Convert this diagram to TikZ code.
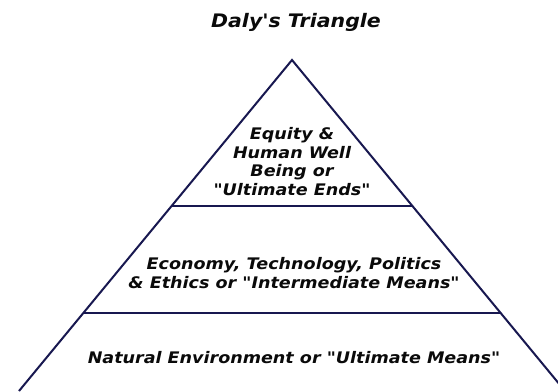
\documentclass[tikz,border=0pt]{standalone}
\usepackage{fontspec}
\usepackage{tikz}
\usetikzlibrary{calc}
\newfontfamily\dalyfont{DejaVu Sans}[FakeStretch=1.1]
\definecolor{mynavy}{RGB}{24,24,80}
\definecolor{myink}{RGB}{10,10,10}

\begin{document}
\begin{tikzpicture}[
          x=1bp,y=-1bp,
          tier/.style={mynavy,line width=2bp},
          tiertext/.style={myink,font=\dalyfont\bfseries\itshape\fontsize{16}{18.5}\selectfont,align=center,inner sep=0pt},
          titletext/.style={myink,font=\dalyfont\bfseries\itshape\fontsize{18.7}{21}\selectfont,inner sep=0pt}
          ]
          \useasboundingbox (0,0) rectangle (558,391);
          \clip (0,0) rectangle (558,391);

          % the corners of the triangle
          \coordinate (apex) at (292,60);
          \coordinate (baseL) at (19,391);
          \coordinate (baseR) at (565,391);
          % the levels
          \coordinate (l1L) at ($(apex)!0.44!(baseL)$);
          \coordinate (l1R) at ($(apex)!0.44!(baseR)$);
          \coordinate (l2L) at ($(apex)!0.763!(baseL)$);
          \coordinate (l2R) at ($(apex)!0.763!(baseR)$);

          % the title
          \node [titletext] (title) at (296,22) {Daly's Triangle};
          % the texts of the levels
          \node [tiertext] (ends) at (292,161.5) {Equity \&\\Human Well\\Being or\\"Ultimate Ends"};
          \node [tiertext] (intermediate) at (294,273) {Economy, Technology, Politics\\\& Ethics or "Intermediate Means"};
          \node [tiertext] (means) at (294,358) {Natural Environment or "Ultimate Means"};

          % the edges
          \draw [tier,line join=miter] (baseL) -- (apex) -- (baseR);
          \draw [tier] (l1L) -- (l1R);
          \draw [tier] (l2L) -- (l2R);
        \end{tikzpicture}
\end{document}
